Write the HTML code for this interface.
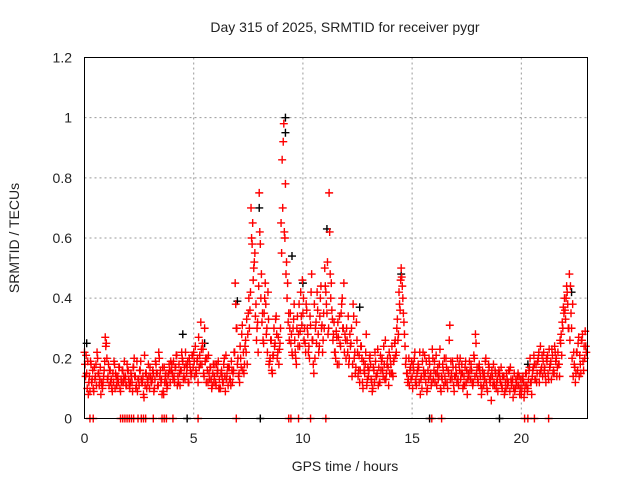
<!DOCTYPE html>
<html><head><meta charset="utf-8"><style>
body{margin:0;background:#fff}
svg text{font-family:"Liberation Sans",sans-serif;font-size:14px;fill:#222}
</style></head><body>
<svg id="chart" width="640" height="480" xmlns="http://www.w3.org/2000/svg">
<text x="345" y="32" text-anchor="middle">Day 315 of 2025, SRMTID for receiver pygr</text>
<text x="345" y="471" text-anchor="middle">GPS time / hours</text>
<text transform="translate(19,238) rotate(-90)" text-anchor="middle">SRMTID / TECUs</text>
<g id="grid"></g><g id="ticks"></g><g id="marks"></g>
<rect x="84.5" y="57.5" width="503" height="361" fill="none" stroke="#000"/>
</svg>
<script>
const xTicks=[0,5,10,15,20];
const yTicks=[0,0.2,0.4,0.6,0.8,1,1.2];
const yTickLabels=["0","0.2","0.4","0.6","0.8","1","1.2"];
const seriesAStart=0, seriesAStep=0.1;
const seriesA=[0.22,0.15,0.12,0.18,0.10,0.14,0.20,0.13,0.11,0.16,
0.25,0.18,0.12,0.15,0.10,0.13,0.17,0.12,0.14,0.11,
0.16,0.12,0.09,0.14,0.19,0.11,0.13,0.08,0.15,0.12,
0.17,0.13,0.10,0.15,0.22,0.12,0.09,0.14,0.11,0.16,
0.18,0.14,0.21,0.12,0.16,0.19,0.13,0.17,0.20,0.15,
0.22,0.16,0.12,0.18,0.25,0.30,0.20,0.15,0.13,0.18,
0.12,0.16,0.10,0.14,0.20,0.13,0.17,0.11,0.15,0.45,
0.18,0.12,0.28,0.15,0.22,0.35,0.42,0.65,0.55,0.30,
0.75,0.48,0.25,0.38,0.42,0.20,0.15,0.24,0.28,0.18,
0.65,0.92,0.78,0.45,0.30,0.22,0.38,0.18,0.28,0.42,
0.35,0.25,0.30,0.20,0.48,0.15,0.32,0.28,0.40,0.22,
0.50,0.35,0.75,0.45,0.28,0.20,0.32,0.25,0.40,0.22,
0.30,0.18,0.25,0.38,0.15,0.22,0.12,0.20,0.16,0.28,
0.14,0.18,0.10,0.22,0.15,0.12,0.19,0.24,0.13,0.17,
0.20,0.15,0.25,0.30,0.42,0.50,0.35,0.18,0.12,0.16,
0.14,0.20,0.11,0.17,0.13,0.22,0.15,0.10,0.18,0.12,
0.16,0.21,0.13,0.10,0.18,0.14,0.12,0.26,0.15,0.11,
0.17,0.13,0.20,0.15,0.11,0.16,0.14,0.18,0.12,0.28,
0.13,0.16,0.10,0.15,0.12,0.18,0.14,0.11,0.16,0.13,
0.15,0.11,0.14,0.10,0.12,0.17,0.13,0.09,0.11,0.14,
0.08,0.12,0.15,0.10,0.20,0.14,0.18,0.12,0.22,0.16,
0.19,0.14,0.21,0.17,0.23,0.15,0.20,0.18,0.25,0.30,
0.36,0.42,0.48,0.30,0.22,0.15,0.25,0.18,0.28,0.20];
const seriesBStart=0.05, seriesBStep=0.1;
const seriesB=[0.14,0.19,0.09,0.13,0.17,0.11,0.15,0.08,0.12,0.27,
0.13,0.16,0.10,0.19,0.14,0.12,0.09,0.16,0.13,0.18,
0.11,0.14,0.17,0.10,0.13,0.16,0.12,0.21,0.10,0.14,
0.12,0.15,0.19,0.11,0.14,0.08,0.17,0.12,0.15,0.19,
0.13,0.17,0.11,0.15,0.22,0.14,0.18,0.12,0.16,0.21,
0.14,0.19,0.17,0.23,0.15,0.20,0.12,0.17,0.11,0.14,
0.18,0.10,0.15,0.12,0.09,0.17,0.13,0.16,0.22,0.30,
0.14,0.20,0.16,0.24,0.18,0.30,0.60,0.50,0.38,0.22,
0.58,0.35,0.40,0.30,0.18,0.26,0.21,0.33,0.22,0.25,
0.86,0.62,0.52,0.35,0.25,0.30,0.22,0.34,0.24,0.31,
0.26,0.38,0.22,0.31,0.26,0.20,0.42,0.24,0.30,0.35,
0.42,0.28,0.48,0.33,0.22,0.27,0.18,0.35,0.30,0.26,
0.22,0.28,0.14,0.20,0.32,0.16,0.24,0.10,0.18,0.13,
0.20,0.12,0.16,0.14,0.11,0.21,0.16,0.13,0.18,0.22,
0.15,0.19,0.21,0.26,0.36,0.44,0.28,0.15,0.20,0.13,
0.18,0.12,0.16,0.22,0.10,0.14,0.19,0.13,0.15,0.20,
0.12,0.15,0.18,0.14,0.11,0.20,0.16,0.13,0.19,0.14,
0.12,0.18,0.15,0.11,0.19,0.13,0.16,0.12,0.20,0.15,
0.17,0.11,0.14,0.19,0.09,0.13,0.16,0.12,0.10,0.15,
0.12,0.14,0.09,0.13,0.16,0.11,0.10,0.13,0.15,0.10,
0.13,0.09,0.11,0.16,0.12,0.17,0.13,0.19,0.15,0.21,
0.16,0.20,0.13,0.19,0.15,0.22,0.17,0.14,0.21,0.35,
0.40,0.30,0.44,0.38,0.17,0.22,0.14,0.26,0.16,0.24];
const seriesCStart=0.025, seriesCStep=0.05;
const seriesC=[0.18,0.21,0.10,0.08,0.14,0.19,0.12,0.16,0.09,0.13,0.18,0.22,0.15,0.11,0.17,0.12,0.10,0.14,0.19,0.24,
0.20,0.14,0.11,0.16,0.13,0.09,0.12,0.18,0.15,0.11,0.14,0.17,0.10,0.13,0.16,0.12,0.19,0.14,0.11,0.16,
0.13,0.10,0.15,0.12,0.17,0.20,0.14,0.11,0.09,0.13,0.16,0.19,0.12,0.14,0.07,0.11,0.15,0.13,0.18,0.10,
0.14,0.12,0.16,0.09,0.13,0.18,0.15,0.11,0.20,0.16,0.13,0.17,0.08,0.12,0.15,0.10,0.14,0.18,0.12,0.16,
0.15,0.19,0.12,0.17,0.21,0.14,0.18,0.11,0.16,0.20,0.13,0.17,0.22,0.15,0.19,0.12,0.18,0.14,0.21,0.17,
0.19,0.24,0.15,0.20,0.27,0.21,0.32,0.18,0.23,0.14,0.19,0.12,0.16,0.21,0.13,0.17,0.10,0.15,0.12,0.18,
0.11,0.15,0.19,0.13,0.10,0.16,0.12,0.18,0.14,0.21,0.15,0.11,0.17,0.13,0.19,0.12,0.16,0.22,0.38,0.30,
0.20,0.15,0.24,0.17,0.31,0.22,0.18,0.26,0.33,0.28,0.40,0.36,0.70,0.58,0.46,0.52,0.34,0.26,0.32,0.44,
0.62,0.40,0.32,0.26,0.35,0.45,0.28,0.22,0.33,0.19,0.26,0.16,0.21,0.30,0.25,0.34,0.20,0.27,0.23,0.30,
0.55,0.70,0.98,0.60,0.48,0.40,0.32,0.26,0.35,0.28,0.21,0.33,0.26,0.20,0.30,0.24,0.38,0.29,0.34,0.46,
0.40,0.30,0.22,0.36,0.28,0.24,0.34,0.42,0.26,0.18,0.38,0.30,0.25,0.36,0.22,0.34,0.44,0.31,0.26,0.30,
0.44,0.38,0.52,0.30,0.62,0.40,0.36,0.26,0.32,0.22,0.29,0.18,0.27,0.34,0.24,0.38,0.30,0.45,0.28,0.20,
0.26,0.34,0.20,0.24,0.30,0.18,0.34,0.22,0.17,0.26,0.14,0.21,0.16,0.24,0.12,0.19,0.15,0.22,0.11,0.17,
0.16,0.21,0.13,0.09,0.17,0.12,0.19,0.14,0.23,0.17,0.12,0.16,0.20,0.14,0.18,0.26,0.15,0.20,0.11,0.15,
0.18,0.24,0.14,0.20,0.26,0.22,0.33,0.28,0.38,0.46,0.47,0.40,0.32,0.24,0.20,0.15,0.13,0.11,0.17,0.19,
0.10,0.16,0.22,0.13,0.15,0.18,0.12,0.08,0.14,0.19,0.16,0.21,0.12,0.09,0.16,0.20,0.14,0.11,0.23,0.13,
0.19,0.15,0.11,0.17,0.14,0.23,0.09,0.13,0.16,0.20,0.12,0.17,0.10,0.15,0.31,0.19,0.13,0.17,0.09,0.14,
0.15,0.20,0.11,0.16,0.13,0.18,0.10,0.14,0.17,0.12,0.08,0.15,0.19,0.13,0.16,0.11,0.21,0.14,0.25,0.17,
0.12,0.18,0.14,0.08,0.16,0.11,0.13,0.20,0.10,0.15,0.17,0.12,0.06,0.14,0.18,0.11,0.15,0.12,0.09,0.16,
0.13,0.17,0.10,0.14,0.08,0.12,0.15,0.11,0.16,0.09,0.13,0.12,0.07,0.15,0.10,0.12,0.14,0.11,0.08,0.13,
0.10,0.14,0.07,0.11,0.15,0.09,0.13,0.17,0.12,0.08,0.16,0.21,0.13,0.18,0.15,0.20,0.12,0.24,0.17,0.14,
0.22,0.17,0.12,0.19,0.15,0.23,0.18,0.13,0.21,0.16,0.24,0.19,0.14,0.22,0.18,0.26,0.28,0.32,0.37,0.40,
0.33,0.44,0.38,0.30,0.26,0.35,0.20,0.14,0.18,0.12,0.22,0.16,0.27,0.21,0.15,0.26,0.19,0.24,0.29,0.22];
const zeroTimes=[0.25,0.4,1.65,1.75,1.85,1.95,2.05,2.15,2.25,2.45,2.6,2.7,2.8,3.15,3.55,3.65,3.75,4.05,5.2,6.95,9.35,9.45,9.8,10.35,11.05,15.9,16.35,20.15,20.3,20.6,21.25];
const blackTimes=[9.2,9.2,8.0,7.0,4.5,11.1,14.5,12.6,9.5,10.0,22.3,5.5,0.1,20.3,4.7,8.05,15.8,19.0];
const blackValues=[1.0,0.95,0.7,0.39,0.28,0.63,0.48,0.37,0.54,0.45,0.42,0.25,0.25,0.18,0,0,0,0];
const X0=84.5,X1=587.5,Y0=418.5,Y1=57.5,XMAX=23.03,YMAX=1.2;
const sx=v=>X0+v/XMAX*(X1-X0), sy=v=>Y0-v/YMAX*(Y0-Y1);
const NS="http://www.w3.org/2000/svg";
function mk(tag,parent){const e=document.createElementNS(NS,tag);parent.appendChild(e);return e;}
const grid=document.getElementById('grid'),ticks=document.getElementById('ticks'),marks=document.getElementById('marks');
xTicks.forEach((t,i)=>{const x=sx(t);
 if(t>0){const g=mk('line',grid);g.setAttribute('x1',x);g.setAttribute('x2',x);g.setAttribute('y1',Y1);g.setAttribute('y2',Y0);g.setAttribute('stroke','#999');g.setAttribute('stroke-dasharray','2,3');
 
 }
 const l=mk('text',ticks);l.setAttribute('x',x);l.setAttribute('y',443);l.setAttribute('text-anchor','middle');l.textContent=t;
 
 });
yTicks.forEach((t,i)=>{const y=sy(t);
 if(t>0&&t<YMAX){const g=mk('line',grid);g.setAttribute('x1',X0);g.setAttribute('x2',X1);g.setAttribute('y1',y);g.setAttribute('y2',y);g.setAttribute('stroke','#999');g.setAttribute('stroke-dasharray','2,3');
 
 }
 const l=mk('text',ticks);l.setAttribute('x',72);l.setAttribute('y',y+5);l.setAttribute('text-anchor','end');l.textContent=yTickLabels[i];
 
 });
function plus(t,v,col,name){const x=sx(t),y=sy(v);const p=mk('path',marks);
 p.setAttribute('d',`M${x-4},${y}h8M${x},${y-4}v8`);p.setAttribute('stroke',col);p.setAttribute('stroke-width','1.4');
 
 }
blackTimes.forEach((t,i)=>plus(t,blackValues[i],'#000','black-point'));
seriesA.forEach((v,i)=>plus(seriesAStart+i*seriesAStep,v,'#f00','red-point'));
seriesB.forEach((v,i)=>plus(seriesBStart+i*seriesBStep,v,'#f00','red-point'));
seriesC.forEach((v,i)=>plus(seriesCStart+i*seriesCStep,v,'#f00','red-point'));
zeroTimes.forEach(t=>plus(t,0,'#f00','zero-point'));
</script>
</body></html>
